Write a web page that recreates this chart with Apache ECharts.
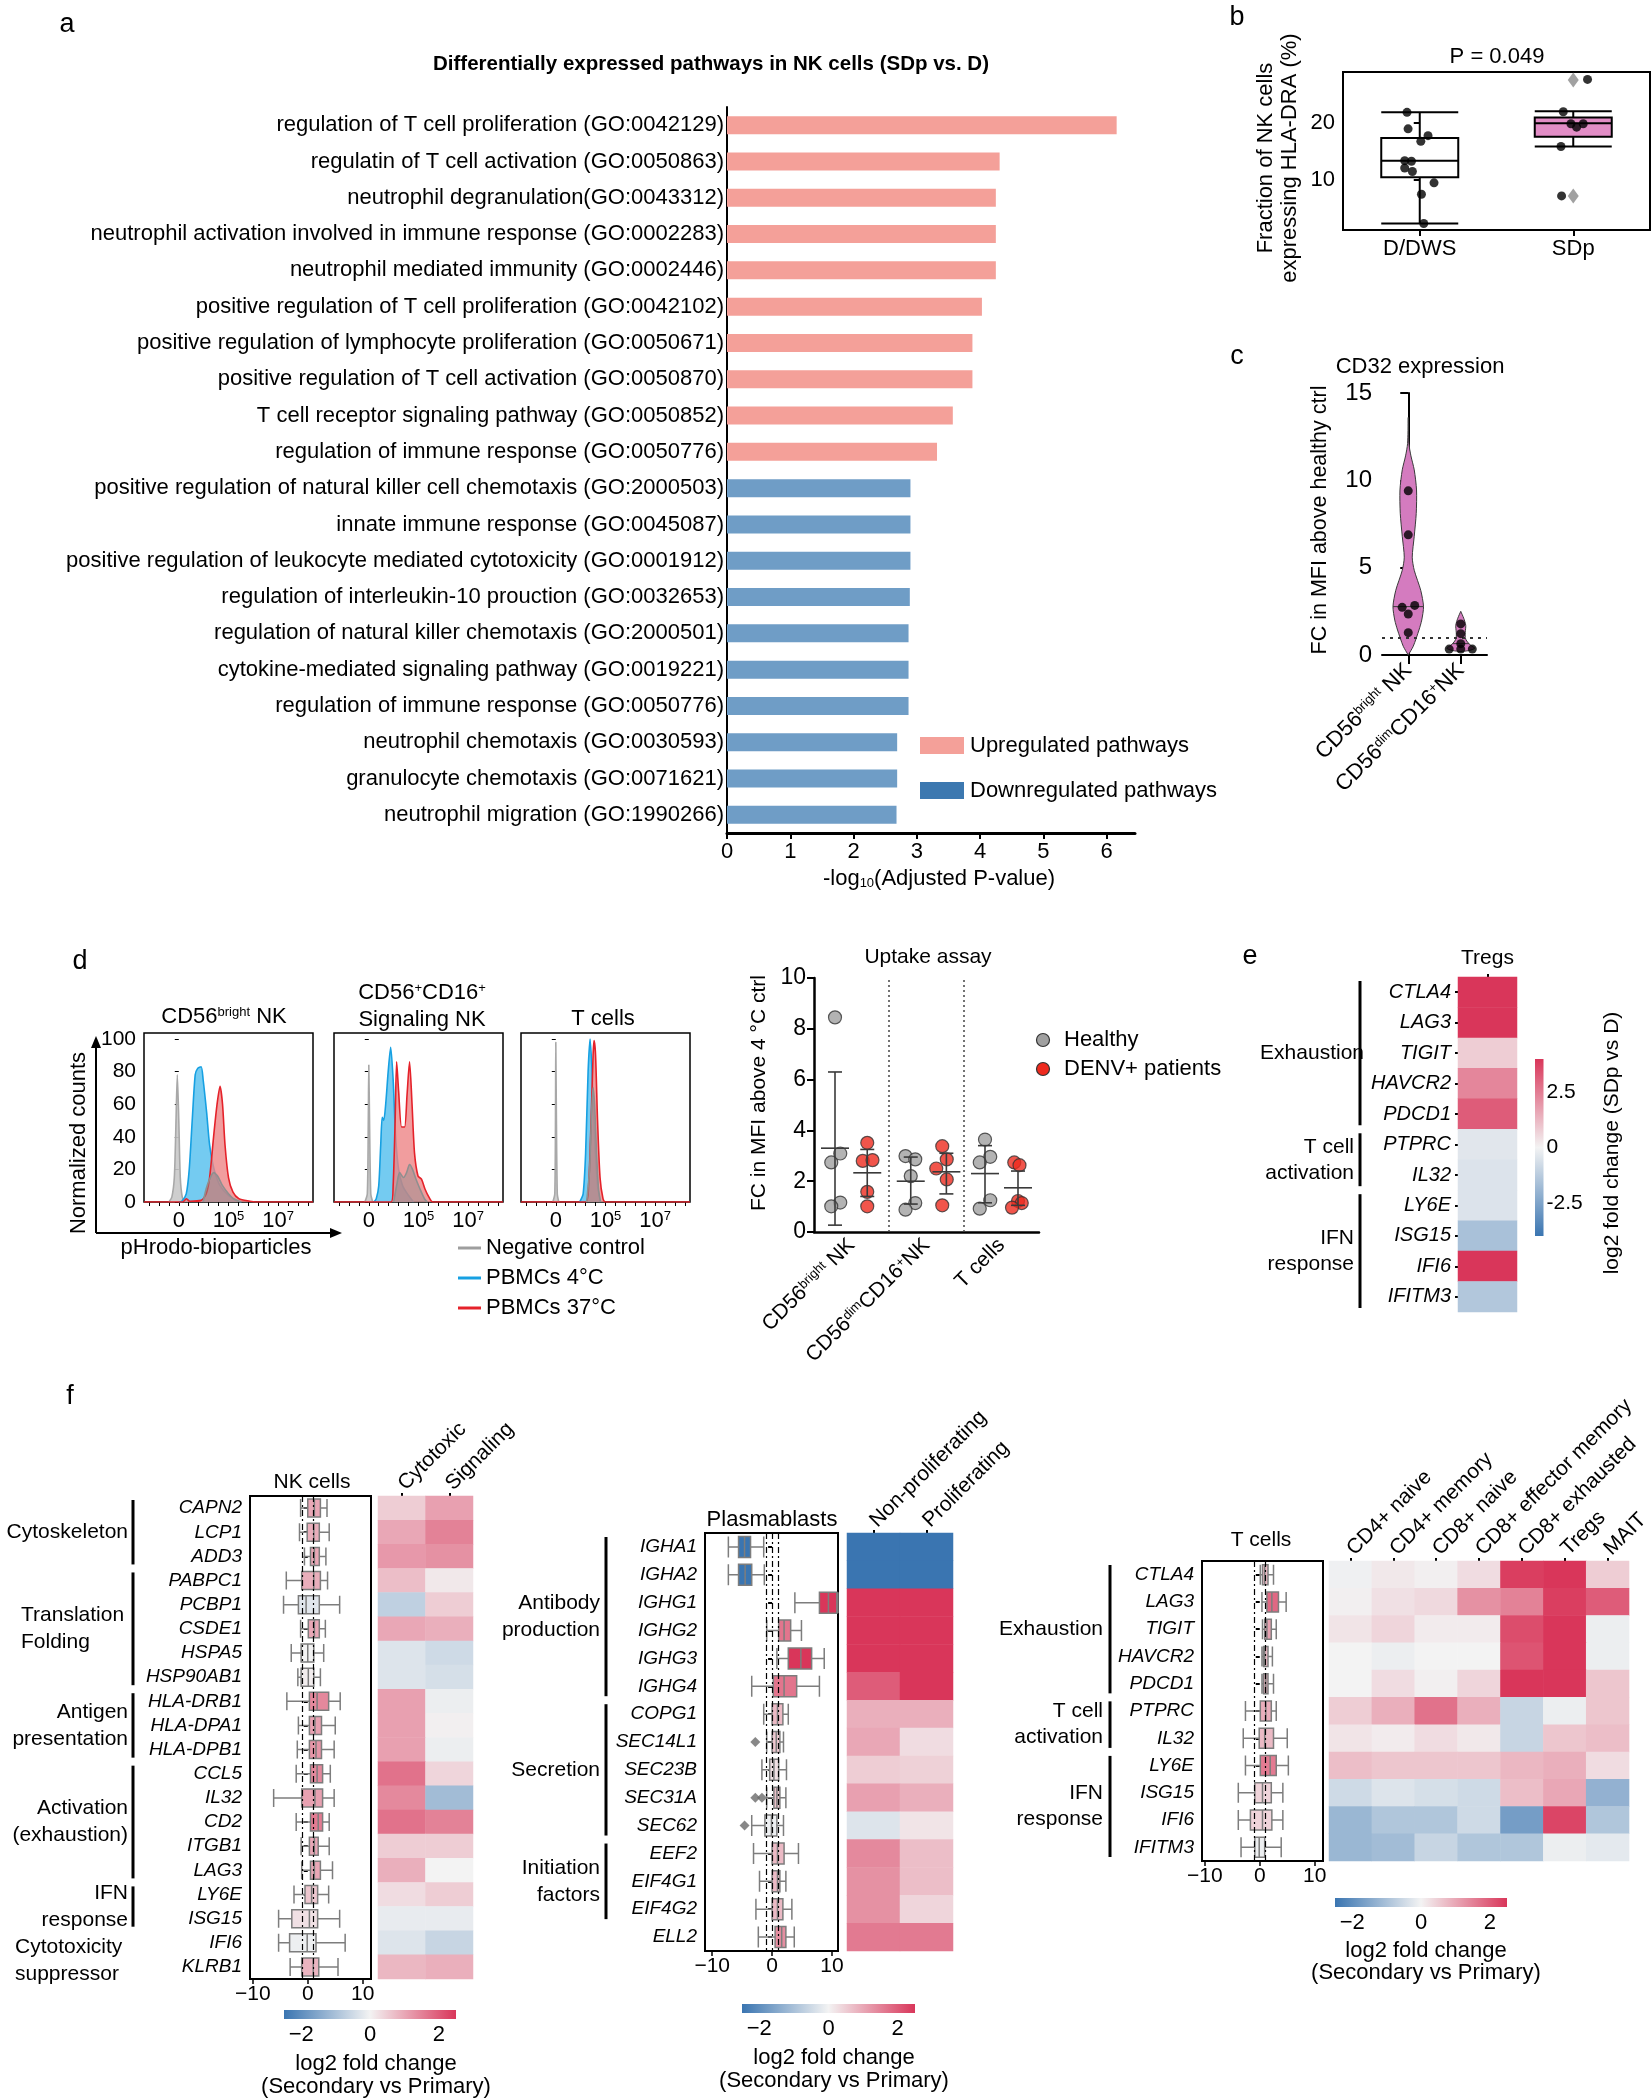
<!DOCTYPE html>
<html><head><meta charset="utf-8">
<script src="https://cdn.jsdelivr.net/npm/echarts/dist/echarts.min.js"></script>
<style>html,body{margin:0;padding:0;background:#fff}#c{width:1652px;height:2100px}</style>
</head><body><div id="c"></div>
<script>
const FONT = 'Liberation Sans, Arial, Helvetica, sans-serif';

// ---------------- Panel a data
const pathwayLabels = [
 'regulation of T cell proliferation (GO:0042129)',
 'regulatin of T cell activation (GO:0050863)',
 'neutrophil degranulation(GO:0043312)',
 'neutrophil activation involved in immune response (GO:0002283)',
 'neutrophil mediated immunity (GO:0002446)',
 'positive regulation of T cell proliferation (GO:0042102)',
 'positive regulation of lymphocyte proliferation (GO:0050671)',
 'positive regulation of T cell activation (GO:0050870)',
 'T cell receptor signaling pathway (GO:0050852)',
 'regulation of immune response (GO:0050776)',
 'positive regulation of natural killer cell chemotaxis (GO:2000503)',
 'innate immune response (GO:0045087)',
 'positive regulation of leukocyte mediated cytotoxicity (GO:0001912)',
 'regulation of interleukin-10 prouction (GO:0032653)',
 'regulation of natural killer chemotaxis (GO:2000501)',
 'cytokine-mediated signaling pathway (GO:0019221)',
 'regulation of immune response (GO:0050776)',
 'neutrophil chemotaxis (GO:0030593)',
 'granulocyte chemotaxis (GO:0071621)',
 'neutrophil migration (GO:1990266)'];
const pathwayValues = [6.16,4.31,4.25,4.25,4.25,4.03,3.88,3.88,3.57,3.32,2.90,2.90,2.90,2.89,2.87,2.87,2.87,2.69,2.69,2.68];
const pathwayDirection = ['up','up','up','up','up','up','up','up','up','up','down','down','down','down','down','down','down','down','down','down'];
const pathwayTicks = [0,1,2,3,4,5,6];

// ---------------- Panel b data
const hlaGroups = ['D/DWS','SDp'];
const hlaBoxStats = [[2.35,10.5,13.4,17.4,21.9],[15.9,17.6,20.0,21.0,22.1]];
const hlaPointsD = [[-0.083,21.9],[-0.076,19.0],[0.054,17.8],[0.007,16.8],[-0.098,13.4],[-0.054,13.3],[-0.098,12.1],[-0.048,11.5],[0.093,9.5],[0.011,7.5],[0.026,2.35]];
const hlaPointsS = [[0.935,22.0],[1.093,27.7],[0.985,19.9],[1.022,19.3],[1.065,19.9],[0.92,15.9],[0.924,7.2]];
const hlaOutliersS = [[1,27.6],[1,7.2]];
const hlaTicks = [10,20];

// ---------------- Panel c data
const cd32Groups = ['bright','dim'];
const cd32Medians = [[0,2.77],[1,0.65]];
const violinBright = [[0,0],[0.5,0.095],[1.43,0.204],[2.0,0.257],[2.77,0.291],[3.7,0.238],[4.85,0.114],[5.6,0.076],[6.8,0.114],[8.1,0.152],[9.45,0.158],[10.6,0.114],[11.4,0.051],[12.1,0.013],[13.6,0]];
const violinDim = [[0.2,0],[0.25,0.15],[0.32,0.229],[0.4,0.267],[0.55,0.19],[0.8,0.114],[1.0,0.086],[1.3,0.086],[1.7,0.095],[2.1,0.057],[2.5,0]];
const cd32Bright = [[-0.116,2.73],[0.123,2.84],[0,2.35],[0,1.28],[0,6.88],[0,9.4]];
const cd32Dim = [[0.78,0.34],[1,0.34],[1.22,0.34],[1,0.65],[1,1.22],[1,1.78]];

// ---------------- Panel d histograms (x: 0 -> 0, 1 -> 10^5, 2 -> 10^7)
const histBrightGrey = [[-0.2,0],[-0.14,3],[-0.09,15],[-0.06,45],[-0.03,78],[0.0,50],[0.03,15],[0.07,3],[0.12,0]];
const histBrightBlue = [[0.0,0],[0.06,0.5],[0.15,5],[0.21,20],[0.27,50],[0.33,78],[0.38,82],[0.45,83],[0.49,75],[0.56,55],[0.62,35],[0.71,20],[0.83,10],[1.0,4],[1.17,1],[1.26,0]];
const histBrightRed = [[-0.7,0],[0.08,0],[0.15,2],[0.22,0.5],[0.45,1],[0.55,5],[0.62,15],[0.70,40],[0.77,60],[0.83,71],[0.88,60],[0.93,35],[1.0,15],[1.09,6],[1.21,2],[1.43,0.5],[1.55,0],[2.7,0]];
const histBrightOverlap = [[0.49,0],[0.55,8],[0.62,14],[0.70,18],[0.78,16],[0.88,10],[1.0,5],[1.1,2],[1.26,0]];
const histSignalGrey = [[-0.08,0],[-0.03,5],[-0.01,50],[0.0,84],[0.015,50],[0.04,5],[0.08,0]];
const histSignalBlue = [[0.1,0],[0.15,2],[0.2,10],[0.24,35],[0.27,52],[0.30,50],[0.34,60],[0.39,80],[0.44,95],[0.49,75],[0.54,40],[0.60,20],[0.68,10],[0.8,4],[0.9,0]];
const histSignalRed = [[-0.7,0],[0.45,0],[0.49,10],[0.53,50],[0.56,86],[0.60,68],[0.66,46],[0.72,46],[0.77,66],[0.82,86],[0.87,60],[0.92,30],[0.99,16],[1.06,14],[1.13,8],[1.21,3],[1.29,0],[2.7,0]];
const histSignalOverlap = [[0.5,0],[0.56,10],[0.62,18],[0.70,15],[0.76,18],[0.82,23],[0.88,20],[0.95,14],[1.03,8],[1.12,2],[1.18,0]];
const histTGrey = [[-0.06,0],[-0.02,5],[-0.005,60],[0.0,98],[0.01,60],[0.03,5],[0.06,0]];
const histTBlue = [[0.48,0],[0.55,5],[0.60,30],[0.65,80],[0.69,100],[0.73,80],[0.78,40],[0.84,10],[0.9,0]];
const histTRed = [[-0.7,0],[0.6,0],[0.66,10],[0.71,50],[0.75,90],[0.77,99],[0.80,90],[0.84,50],[0.89,15],[0.95,2],[1.0,0],[2.7,0]];
const histTOverlap = [[0.62,0],[0.68,20],[0.72,55],[0.75,70],[0.78,60],[0.82,30],[0.86,8],[0.9,0]];
const histYTicks = [0,20,40,60,80,100];
const histXTicks = [0,1,2];

// ---------------- Panel d uptake
const uptakeGroups = ['bright','dim','T'];
const uptakeHealthy = [[0.28,8.45],[0.35,3.09],[0.23,2.74],[0.35,1.16],[0.23,1.01],[1.22,2.99],[1.35,2.86],[1.29,2.20],[1.35,1.14],[1.22,0.88],[2.28,3.64],[2.35,2.96],[2.21,2.74],[2.35,1.25],[2.21,0.92]];
const uptakeDenv = [[0.71,3.51],[0.65,2.80],[0.78,2.83],[0.71,1.58],[0.71,1.01],[1.71,3.38],[1.77,2.86],[1.63,2.50],[1.77,2.07],[1.71,1.05],[2.67,2.74],[2.74,2.63],[2.72,1.22],[2.77,1.14],[2.64,0.96]];
const uptakeHealthyStats = [[0.28,3.3,0.27,6.3],[1.29,2.0,1.1,2.95],[2.28,2.3,1.15,3.4]];
const uptakeDenvStats = [[0.71,2.33,1.4,3.25],[1.765,2.37,1.5,3.1],[2.72,1.74,1.05,2.4]];

// ---------------- Panel e
const eGenes = ['CTLA4','LAG3','TIGIT','HAVCR2','PDCD1','PTPRC','IL32','LY6E','ISG15','IFI6','IFITM3'];
const eTregs = [4.0,4.0,0.8,2.3,3.2,-0.4,-0.5,-0.5,-1.6,4.0,-1.4];
const eColorTicks = [-2.5,0,2.5];

// ---------------- Panel f: NK
const nkGenes = ['CAPN2','LCP1','ADD3','PABPC1','PCBP1','CSDE1','HSPA5','HSP90AB1','HLA-DRB1','HLA-DPA1','HLA-DPB1','CCL5','IL32','CD2','ITGB1','LAG3','LY6E','ISG15','IFI6','KLRB1'];
const nkBoxStats = [
 [-1.3,0,1.2,2.3,3.5],[-1.5,-0.1,1.1,2.1,3.9],[-0.6,0.5,1.2,2.1,3.3],[-3.9,-1.1,1.1,2.3,3.6],
 [-4.4,-1.7,-0.3,2.1,5.8],[-1.3,0.1,1.2,2.1,3.2],[-3.0,-1.2,0,1.1,2.9],[-1.8,-1.2,0.1,1.1,2.3],
 [-3.8,0.3,1.7,3.8,5.9],[-1.7,0.3,1.3,2.5,5.0],[-1.9,0.3,1.5,2.5,4.8],[-2.1,0.5,1.7,2.7,4.1],
 [-6.2,-1.1,1.3,2.7,4.8],[-2.1,0.5,1.9,2.7,3.9],[-1.2,0.3,1.2,1.9,3.9],[-1.1,0.5,1.2,2.3,4.5],
 [-2.5,-0.5,0.7,1.8,3.8],[-5.3,-2.9,0.3,1.8,5.8],[-5.3,-3.3,-0.1,1.5,6.8],[-3.2,-1.1,1.0,2.0,5.5]];
const nkSubsets = ['Cytotoxic','Signaling'];
const nkCytotoxic = [0.5,1.0,1.2,0.7,-0.7,1.0,-0.3,-0.3,1.1,1.1,1.1,1.7,1.4,1.7,0.5,0.9,0.3,-0.15,-0.3,0.8];
const nkSignaling = [1.1,1.5,1.3,0.15,0.5,0.9,-0.5,-0.4,-0.1,0.05,-0.1,0.4,-1.1,1.5,0.5,0.0,0.5,-0.15,-0.6,0.9];

// ---------------- Panel f: plasmablasts
const pbGenes = ['IGHA1','IGHA2','IGHG1','IGHG2','IGHG3','IGHG4','COPG1','SEC14L1','SEC23B','SEC31A','SEC62','EEF2','EIF4G1','EIF4G2','ELL2'];
const pbBoxStats = [
 [-7.3,-5.6,-4.6,-3.6,-1.4],[-7.3,-5.6,-4.5,-3.4,-1.3],[3.8,7.9,9.4,10.8,11.0],[-0.9,1.1,2.0,3.1,4.9],
 [0.8,2.7,4.8,6.6,8.7],[-3.4,0.2,2.0,4.1,7.9],[-1.4,0,0.9,1.8,2.7],[-0.9,0,0.7,1.3,1.9],
 [-1.7,-0.4,0.3,1.1,2.4],[-0.9,0.3,0.8,1.3,2.3],[-3.4,-1.2,-0.1,0.8,1.9],[-3.1,0,0.9,2.0,4.4],
 [-2.1,0,0.9,1.3,2.3],[-2.7,0,0.9,1.8,3.3],[-2.3,0.5,1.6,2.3,3.7]];
const pbOutliers = [[-2.8,7],[-2.8,9],[-1.7,9],[-4.6,10]];
const pbSubsets = ['Non-proliferating','Proliferating'];
const pbNonProlif = [-2.5,-2.5,2.5,2.5,2.5,2.0,0.9,1.0,0.5,1.1,-0.3,1.4,1.3,1.3,1.6];
const pbProlif = [-2.5,-2.5,2.5,2.5,2.5,2.5,0.9,0.3,0.45,0.9,0.2,0.7,0.7,0.4,1.6];

// ---------------- Panel f: T cells
const tGenes = ['CTLA4','LAG3','TIGIT','HAVCR2','PDCD1','PTPRC','IL32','LY6E','ISG15','IFI6','IFITM3'];
const tBoxStats = [
 [0.1,0.5,0.9,1.5,2.5],[0.4,1.3,2.2,3.4,4.8],[0.5,0.9,1.3,2.1,3.0],[0.4,0.7,0.9,1.5,2.3],
 [0.4,0.7,1.1,1.5,2.5],[-2.6,0.1,1.1,2.1,3.0],[-3.0,-0.1,0.9,2.5,5.0],[-2.6,0.1,1.9,3.0,5.2],
 [-3.9,-0.9,0.5,2.1,4.2],[-3.9,-1.7,0.5,2.2,4.2],[-3.4,-0.9,-0.1,0.9,3.9]];
const tSubsets = ['CD4+ naive','CD4+ memory','CD8+ naive','CD8+ effector memory','CD8+ exhausted','Tregs','MAIT'];
const tHeat = [
 [-0.05,0.15,0.05,0.3,2.4,2.5,0.5],
 [0.05,0.25,0.35,1.3,1.5,2.4,2.0],
 [0.2,0.4,0.1,0.1,2.2,2.5,-0.1],
 [0.0,-0.1,0.0,0.0,2.1,2.5,-0.1],
 [0.0,0.3,0.05,0.4,2.5,2.5,0.6],
 [0.5,0.9,1.7,0.9,-0.6,-0.1,0.6],
 [0.2,0.1,0.3,0.15,-0.6,0.6,0.7],
 [0.7,0.6,0.6,0.6,0.8,0.9,0.3],
 [-0.5,-0.3,-0.4,-0.5,0.7,1.0,-1.3],
 [-1.2,-0.9,-0.9,-0.5,-1.7,2.3,-0.9],
 [-1.2,-1.1,-0.6,-0.9,-0.9,-0.1,-0.2]];
const fColorTicks = [-2,0,2];
const fBoxTicks = [-10,0,10];

// =====================================================================
const PAL = ['#3A75B1','#F3F3F3','#D9365A'];
const UP = '#F4A099', DOWN_BAR = '#6F9DC6', DOWN_LEG = '#3C78B0';
function hx(c){return [parseInt(c.slice(1,3),16),parseInt(c.slice(3,5),16),parseInt(c.slice(5,7),16)];}
function mix(a,b,t){const A=hx(a),B=hx(b);return 'rgb('+A.map((v,i)=>Math.round(v+(B[i]-v)*t)).join(',')+')';}
function divColor(v,lim){const t=Math.max(-1,Math.min(1,v/lim));return t<0?mix(PAL[1],PAL[0],-t):mix(PAL[1],PAL[2],t);}

const opt = {animation:false, backgroundColor:'#fff', textStyle:{fontFamily:FONT, color:'#000'},
  grid:[], xAxis:[], yAxis:[], series:[], visualMap:[], graphic:{elements:[]}};
const G = opt.graphic.elements;
function addGrid(g){opt.grid.push(Object.assign({containLabel:false}, g)); return opt.grid.length-1;}
function addX(a){opt.xAxis.push(a); return opt.xAxis.length-1;}
function addY(a){opt.yAxis.push(a); return opt.yAxis.length-1;}
function addS(s){opt.series.push(s); return opt.series.length-1;}
function T(x,y,text,o){o=o||{};G.push({type:'text',x:x,y:y,rotation:o.rot||0,z:20,silent:true,
  style:{text:text,fill:o.color||'#000',fontSize:o.size||21,fontFamily:FONT,fontWeight:o.weight||'normal',
  fontStyle:o.fstyle||'normal',align:o.align||'center',verticalAlign:o.va||'middle',lineHeight:o.lh||undefined,rich:o.rich||undefined}});}
function L(x1,y1,x2,y2,w,c){G.push({type:'line',z:20,silent:true,shape:{x1,y1,x2,y2},style:{stroke:c||'#000',lineWidth:w||2}});}
const SUPR = {s:{fontSize:13, fontFamily:FONT, verticalAlign:'top', lineHeight:14}};

// ---------------- Panel a
const gA = addGrid({left:727, top:107, width:408, height:726});
const xA = addX({type:'value', gridIndex:gA, min:0, max:6.45, splitLine:{show:false},
  axisLine:{show:true, lineStyle:{color:'#000', width:3}},
  axisTick:{show:true, customValues:pathwayTicks, length:6, lineStyle:{color:'#000', width:2}},
  axisLabel:{customValues:pathwayTicks, fontSize:22, color:'#000', margin:8}});
const yA = addY({type:'category', gridIndex:gA, inverse:true, data:pathwayLabels.map((_,i)=>'p'+i),
  axisLine:{show:true, lineStyle:{color:'#000', width:2}}, axisTick:{show:false},
  axisLabel:{interval:0, formatter:v=>pathwayLabels[+v.slice(1)], fontSize:22, color:'#000', margin:3}});
addS({type:'bar', xAxisIndex:xA, yAxisIndex:yA, barWidth:18,
  data:pathwayValues.map((v,i)=>({value:v, itemStyle:{color:pathwayDirection[i]==='up'?UP:DOWN_BAR}}))});
T(711,64,'Differentially expressed pathways in NK cells (SDp vs. D)',{size:20.5,weight:'bold'});
T(939,879,'-log{b|10}(Adjusted P-value)',{size:22,rich:{b:{fontSize:13,verticalAlign:'bottom',fontFamily:FONT}}});
G.push({type:'rect',z:20,shape:{x:920,y:737,width:44,height:17},style:{fill:UP}});
G.push({type:'rect',z:20,shape:{x:920,y:782,width:44,height:17},style:{fill:DOWN_LEG}});
T(970,746,'Upregulated pathways',{size:22,align:'left'});
T(970,791,'Downregulated pathways',{size:22,align:'left'});

// ---------------- Panel b
const gB = addGrid({left:1343, top:72, width:307, height:158, show:true, borderColor:'#000', borderWidth:2});
const xB = addX({type:'category', gridIndex:gB, data:hlaGroups, axisLine:{show:false},
  axisTick:{show:true, alignWithLabel:true, length:6, lineStyle:{color:'#000', width:2}},
  axisLabel:{fontSize:22, color:'#000', margin:8}});
const xB2 = addX({type:'value', gridIndex:gB, min:-0.5, max:1.5, show:false});
const yB = addY({type:'value', gridIndex:gB, min:1.2, max:29, splitLine:{show:false}, axisLine:{show:false},
  axisTick:{show:true, customValues:hlaTicks, length:6, lineStyle:{color:'#000', width:2}},
  axisLabel:{customValues:hlaTicks, fontSize:22, color:'#000', margin:8}});
addS({type:'boxplot', xAxisIndex:xB, yAxisIndex:yB, boxWidth:[77,77],
  data:hlaBoxStats.map((s,i)=>({value:s, itemStyle:{color:i?'#E28DC6':'#fff', borderColor:'#000', borderWidth:2}}))});
addS({type:'scatter', xAxisIndex:xB2, yAxisIndex:yB, symbolSize:9, itemStyle:{color:'#000'}, data:hlaPointsD.concat(hlaPointsS), z:5});
addS({type:'scatter', xAxisIndex:xB2, yAxisIndex:yB, symbol:'diamond', symbolSize:[11,15], itemStyle:{color:'#8a8a8a'}, data:hlaOutliersS, z:4});
T(1497,57,'P = 0.049',{size:22});
T(1278,158,'Fraction of NK cells\nexpressing HLA-DRA (%)',{size:22,rot:Math.PI/2,lh:24});

// ---------------- Panel c
const gC = addGrid({left:1382, top:393, width:105, height:262});
const xC = addX({type:'category', gridIndex:gC, data:cd32Groups,
  axisLine:{show:true, lineStyle:{color:'#000', width:2}},
  axisTick:{show:true, alignWithLabel:true, length:9, lineStyle:{color:'#000', width:2}},
  axisLabel:{interval:0, rotate:45, fontSize:22, color:'#000', margin:12, rich:SUPR,
    formatter:v=>v==='bright'?'CD56{s|bright} NK':'CD56{s|dim}CD16{s|+}NK'}});
const xC2 = addX({type:'value', gridIndex:gC, min:-0.5, max:1.5, show:false});
const yC = addY({type:'value', gridIndex:gC, min:0, max:15, interval:5, splitLine:{show:false},
  axisLine:{show:true, lineStyle:{color:'#000', width:2}},
  axisTick:{show:true, length:8, lineStyle:{color:'#000', width:2}},
  axisLabel:{fontSize:24, color:'#000', margin:10}});
const violinProfiles = [violinBright, violinDim];
addS({type:'custom', xAxisIndex:xC2, yAxisIndex:yC, data:cd32Medians, z:2,
  renderItem:(params, api)=>{
    const prof = violinProfiles[params.dataIndex]; const c = api.value(0), med = api.value(1);
    const R = prof.map(p=>api.coord([c+p[1], p[0]])); const Lf = prof.slice().reverse().map(p=>api.coord([c-p[1], p[0]]));
    let hw = 0; for (let i=1;i<prof.length;i++){ if (prof[i][0]>=med){const a=prof[i-1],b=prof[i];hw=a[1]+(b[1]-a[1])*(med-a[0])/(b[0]-a[0]);break;} }
    const m1 = api.coord([c-hw, med]), m2 = api.coord([c+hw, med]);
    return {type:'group', children:[
      {type:'polygon', shape:{points:R.concat(Lf), smooth:0.25}, style:{fill:'#D47BBF', stroke:'#3a3a3a', lineWidth:1}},
      {type:'line', shape:{x1:m1[0],y1:m1[1],x2:m2[0],y2:m2[1]}, style:{stroke:'#3a3a3a', lineWidth:1}}]};
  }});
addS({type:'scatter', xAxisIndex:xC2, yAxisIndex:yC, symbolSize:9, itemStyle:{color:'#000'}, data:cd32Bright.concat(cd32Dim), z:5,
  markLine:{silent:true, symbol:'none', label:{show:false}, lineStyle:{color:'#333', type:[3,5], width:2}, data:[{yAxis:1}]}});
T(1420,367,'CD32 expression',{size:22});
T(1320,520,'FC in MFI above healthy ctrl',{size:21.5,rot:Math.PI/2});

// ---------------- Panel d histograms
const histMinor = []; for (let v=-0.6; v<2.65; v+=0.2) histMinor.push(+v.toFixed(2));
function histPanel(left, curves, showY){
  const g = addGrid({left:left, top:1033, width:169, height:169, show:true, borderColor:'#000', borderWidth:1.5});
  const xi = addX({type:'value', gridIndex:g, min:-0.7, max:2.7, splitLine:{show:false}, axisLine:{show:false},
    axisTick:{show:true, customValues:histMinor, length:4, lineStyle:{color:'#000'}},
    axisLabel:{customValues:histXTicks, fontSize:22, color:'#000', margin:8, rich:SUPR,
      formatter:v=>v===0?'0':(v===1?'10{s|5}':'10{s|7}')}});
  const yi = addY({type:'value', gridIndex:g, min:0, max:103.7, splitLine:{show:false}, axisLine:{show:false},
    axisTick:{show:true, customValues:histYTicks, length:4, lineStyle:{color:'#000'}},
    axisLabel:{show:showY, customValues:histYTicks, fontSize:21, color:'#000', margin:8}});
  curves.forEach((c,k)=>addS({type:'line', xAxisIndex:xi, yAxisIndex:yi, data:c.d, smooth:0.25, symbol:'none', z:2+k,
    lineStyle:{color:c.line, width:1.6}, areaStyle:{color:c.fill, opacity:c.op}}));
}
const GREY = {line:'#A8A8A8', fill:'#C9C9C9', op:0.9}, BLUE = {line:'#16A0E2', fill:'#5CC2EE', op:0.85},
      RED = {line:'#E5222A', fill:'#EE8486', op:0.8}, OVL = {line:'#8F8F8F', fill:'#8C8C8C', op:0.45};
histPanel(144,[Object.assign({d:histBrightGrey},GREY),Object.assign({d:histBrightBlue},BLUE),Object.assign({d:histBrightRed},RED),Object.assign({d:histBrightOverlap},OVL)],true);
histPanel(334,[Object.assign({d:histSignalGrey},GREY),Object.assign({d:histSignalBlue},BLUE),Object.assign({d:histSignalRed},RED),Object.assign({d:histSignalOverlap},OVL)],false);
histPanel(521,[Object.assign({d:histTGrey},GREY),Object.assign({d:histTBlue},BLUE),Object.assign({d:histTRed},RED),Object.assign({d:histTOverlap},OVL)],false);
T(224,1017,'CD56{s|bright} NK',{size:22,rich:SUPR});
T(422,993,'CD56{s|+}CD16{s|+}',{size:22,rich:SUPR});
T(422,1020,'Signaling NK',{size:22});
T(603,1019,'T cells',{size:22});
T(79,1143,'Normalized counts',{size:22,rot:Math.PI/2});
T(216,1248,'pHrodo-bioparticles',{size:22});
L(96,1233,96,1046,2); L(96,1233,332,1233,2);
G.push({type:'polygon',z:20,shape:{points:[[91,1048],[101,1048],[96,1036]]},style:{fill:'#000'}});
G.push({type:'polygon',z:20,shape:{points:[[330,1228],[330,1238],[342,1233]]},style:{fill:'#000'}});
L(458,1248,481,1248,3,'#9E9E9E'); L(458,1278,481,1278,3,'#16A0E2'); L(458,1308,481,1308,3,'#E5222A');
T(486,1248,'Negative control',{size:22,align:'left'});
T(486,1278,'PBMCs 4\u00B0C',{size:22,align:'left'});
T(486,1308,'PBMCs 37\u00B0C',{size:22,align:'left'});

// ---------------- Panel d uptake
const gU = addGrid({left:814, top:978, width:225, height:254});
const xU = addX({type:'category', gridIndex:gU, data:uptakeGroups,
  axisLine:{show:true, lineStyle:{color:'#000', width:2.5}}, axisTick:{show:false},
  axisLabel:{interval:0, rotate:45, fontSize:21, color:'#000', margin:10, rich:SUPR,
    formatter:v=>v==='bright'?'CD56{s|bright} NK':(v==='dim'?'CD56{s|dim}CD16{s|+}NK':'T cells')}});
const xU2 = addX({type:'value', gridIndex:gU, min:0, max:3, show:false});
const yU = addY({type:'value', gridIndex:gU, min:0, max:10, interval:2, splitLine:{show:false},
  axisLine:{show:true, lineStyle:{color:'#000', width:2.5}},
  axisTick:{show:true, length:7, lineStyle:{color:'#000', width:2}},
  axisLabel:{fontSize:23, color:'#000', margin:8}});
function errRender(params, api){
  const x=api.value(0), m=api.value(1), lo=api.value(2), hi=api.value(3);
  const pm=api.coord([x,m]), pl=api.coord([x,lo]), ph=api.coord([x,hi]);
  const st={stroke:'#3a3a3a', lineWidth:1.6};
  return {type:'group', children:[
    {type:'line', shape:{x1:pl[0],y1:pl[1],x2:ph[0],y2:ph[1]}, style:st},
    {type:'line', shape:{x1:pl[0]-7,y1:pl[1],x2:pl[0]+7,y2:pl[1]}, style:st},
    {type:'line', shape:{x1:ph[0]-7,y1:ph[1],x2:ph[0]+7,y2:ph[1]}, style:st},
    {type:'line', shape:{x1:pm[0]-14,y1:pm[1],x2:pm[0]+14,y2:pm[1]}, style:st}]};
}
addS({type:'scatter', xAxisIndex:xU2, yAxisIndex:yU, symbolSize:13, itemStyle:{color:'#A0A0A0', borderColor:'#333', borderWidth:1.2}, data:uptakeHealthy, z:3,
  markLine:{silent:true, symbol:'none', label:{show:false}, lineStyle:{color:'#444', type:[2,3], width:1.5}, data:[{xAxis:1},{xAxis:2}]}});
addS({type:'scatter', xAxisIndex:xU2, yAxisIndex:yU, symbolSize:13, itemStyle:{color:'#EE2A1E', borderColor:'#333', borderWidth:1.2}, data:uptakeDenv, z:3});
addS({type:'custom', xAxisIndex:xU2, yAxisIndex:yU, data:uptakeHealthyStats.concat(uptakeDenvStats), renderItem:errRender, z:6});
T(928,957,'Uptake assay',{size:21});
T(759,1093,'FC in MFI above 4 \u00B0C ctrl',{size:21,rot:Math.PI/2});
G.push({type:'circle',z:20,shape:{cx:1043,cy:1040,r:6.5},style:{fill:'#A0A0A0',stroke:'#333',lineWidth:1.2}});
G.push({type:'circle',z:20,shape:{cx:1043,cy:1069,r:6.5},style:{fill:'#EE2A1E',stroke:'#333',lineWidth:1.2}});
T(1064,1040,'Healthy',{size:22,align:'left'});
T(1064,1069,'DENV+ patients',{size:22,align:'left'});

// ---------------- heatmap / box helpers
function heatPanel(left, top, width, height, genes, cols, matrix, showY, labelSize){
  const g = addGrid({left, top, width, height});
  const multi = cols.length>1;
  const xi = addX({type:'category', gridIndex:g, position:'top', data:cols, axisLine:{show:false},
    axisTick:{show:true, alignWithLabel:true, length:3, lineStyle:{color:'#000', width:2}},
    axisLabel:{interval:0, rotate:multi?-45:0, fontSize:21, color:'#000', margin:multi?9:8}});
  const yi = addY({type:'category', gridIndex:g, inverse:true, data:genes, show:showY, axisLine:{show:false},
    axisTick:{show:true, alignWithLabel:true, length:3, lineStyle:{color:'#000', width:2}},
    axisLabel:{interval:0, fontStyle:'italic', fontSize:labelSize||20, color:'#000', margin:7}});
  const data = []; genes.forEach((gn,i)=>cols.forEach((c,j)=>data.push([j,i,matrix(i,j)])));
  return addS({type:'heatmap', xAxisIndex:xi, yAxisIndex:yi, data, itemStyle:{borderWidth:0}, emphasis:{disabled:true}});
}
function boxPanel(left, top, width, height, genes, stats, xmin, xmax, bw, outliers, lines){
  const g = addGrid({left, top, width, height, show:true, borderColor:'#000', borderWidth:2});
  const xi = addX({type:'value', gridIndex:g, min:xmin, max:xmax, splitLine:{show:false}, axisLine:{show:false},
    axisTick:{show:true, customValues:fBoxTicks, length:5, lineStyle:{color:'#000', width:1.5}},
    axisLabel:{customValues:fBoxTicks, fontSize:21, color:'#000', margin:5, formatter:v=>v<0?'\u2212'+Math.abs(v):String(v)}});
  const yi = addY({type:'category', gridIndex:g, inverse:true, data:genes, axisLine:{show:false},
    axisTick:{show:true, alignWithLabel:true, interval:0, length:4, lineStyle:{color:'#000', width:2}},
    axisLabel:{interval:0, fontStyle:'italic', fontSize:19, color:'#000', margin:8}});
  addS({type:'boxplot', layout:'horizontal', xAxisIndex:xi, yAxisIndex:yi, boxWidth:[bw,bw], z:3,
    data:stats.map(s=>({value:s, itemStyle:{color:divColor(s[2],3), borderColor:'#7d7d7d', borderWidth:1.5}}))});
  addS({type:'scatter', xAxisIndex:xi, yAxisIndex:yi, symbol:'diamond', symbolSize:10, itemStyle:{color:'#6a6a6a'}, data:outliers, z:4,
    markLine:{silent:true, symbol:'none', label:{show:false}, lineStyle:{color:'#000', type:[6,3,2,3], width:1.2}, data:lines.map(v=>({xAxis:v}))}});
}
function hColorbar(left, top, width, height){
  const g = addGrid({left, top, width, height});
  addX({type:'value', gridIndex:g, min:-2.5, max:2.5, splitLine:{show:false}, axisLine:{show:false},
    axisTick:{show:true, inside:true, customValues:fColorTicks, length:3, lineStyle:{color:'#333', width:2}},
    axisLabel:{customValues:fColorTicks, fontSize:22, color:'#000', margin:5, formatter:v=>v<0?'\u2212'+Math.abs(v):String(v)}});
  addY({type:'value', gridIndex:g, show:false, min:0, max:1});
  G.push({type:'rect', z:1, shape:{x:left, y:top, width:width, height:height},
    style:{fill:new echarts.graphic.LinearGradient(0,0,1,0,[{offset:0,color:PAL[0]},{offset:0.5,color:PAL[1]},{offset:1,color:PAL[2]}])}});
}
function brackets(top, height, n, groups, barX, textX, lh){
  const b = height/n;
  groups.forEach(gr=>{
    const y1 = top + gr[1]*b + 4, y2 = top + (gr[2]+1)*b - 4;
    if (!gr[3] || !gr[3].noBar) L(barX, y1, barX, y2, 3);
    const o = gr[3] || {};
    T(o.x!==undefined?o.x:textX, (y1+y2)/2 + (o.dy||0), gr[0], {size:21, align:o.align||'right', lh:lh});
  });
}

// ---------------- Panel e
const heatE = heatPanel(1458, 977, 59, 335, eGenes, ['Tregs'], (i)=>eTregs[i], true, 20);
const gEc = addGrid({left:1535, top:1059, width:8.5, height:177});
addX({type:'value', gridIndex:gEc, show:false, min:0, max:1});
addY({type:'value', gridIndex:gEc, position:'right', min:-4, max:4, splitLine:{show:false}, axisLine:{show:false},
  axisTick:{show:true, customValues:eColorTicks, length:5, lineStyle:{color:'#000', width:1.5}},
  axisLabel:{customValues:eColorTicks, fontSize:21, color:'#000', margin:3}});
G.push({type:'rect', z:1, shape:{x:1535, y:1059, width:8.5, height:177},
  style:{fill:new echarts.graphic.LinearGradient(0,0,0,1,[{offset:0,color:PAL[2]},{offset:0.5,color:PAL[1]},{offset:1,color:PAL[0]}])}});
T(1612,1143,'log2 fold change (SDp vs D)',{size:21,rot:Math.PI/2});
brackets(977, 335, 11, [['Exhaustion',0,4,{x:1364}],['T cell\nactivation',5,6],['IFN\nresponse',7,10]], 1360, 1354, 26);

// ---------------- Panel f
boxPanel(250, 1496, 121, 483, nkGenes, nkBoxStats, -10.5, 11.5, 18, [], [-1,1]);
const heatNK = heatPanel(378, 1496, 95, 483, nkGenes, nkSubsets, (i,j)=>j?nkSignaling[i]:nkCytotoxic[i], false);
hColorbar(284, 2010, 172, 9);
T(312,1482,'NK cells',{size:21});
T(376,2064,'log2 fold change',{size:22});
T(376,2087,'(Secondary vs Primary)',{size:22});
brackets(1496, 483, 20, [['Cytoskeleton',0,2],['Translation\nFolding',3,7,{align:'left',x:21}],['Antigen\npresentation',8,10],
  ['Activation\n(exhaustion)',11,15],['IFN\nresponse',16,17],['Cytotoxicity\nsuppressor',18,19,{noBar:true,align:'left',x:15,dy:6}]], 133, 128, 27);

boxPanel(705, 1533, 133, 418, pbGenes, pbBoxStats, -11.2, 11, 21, pbOutliers, [-1,0,1]);
const heatPB = heatPanel(847, 1533, 106, 418, pbGenes, pbSubsets, (i,j)=>j?pbProlif[i]:pbNonProlif[i], false);
hColorbar(742, 2004, 173, 9);
T(772,1520,'Plasmablasts',{size:22});
T(834,2058,'log2 fold change',{size:22});
T(834,2081,'(Secondary vs Primary)',{size:22});
brackets(1533, 418, 15, [['Antibody\nproduction',0,5],['Secretion',6,10],['Initiation\nfactors',11,13]], 606, 600, 27);

boxPanel(1202, 1561, 121, 300, tGenes, tBoxStats, -10.5, 11.5, 20, [], [-1,1]);
const heatT = heatPanel(1329, 1561, 309, 300, tGenes, tSubsets, (i,j)=>tHeat[i][j], false);
hColorbar(1335, 1898, 172, 9);
T(1261,1540,'T cells',{size:21});
T(1426,1951,'log2 fold change',{size:22});
T(1426,1973,'(Secondary vs Primary)',{size:22});
brackets(1561, 300, 11, [['Exhaustion',0,4],['T cell\nactivation',5,6],['IFN\nresponse',7,10]], 1110, 1103, 26);

opt.visualMap.push({type:'continuous', show:false, min:-2.5, max:2.5, dimension:2, seriesIndex:[heatNK, heatPB, heatT], inRange:{color:PAL}});
opt.visualMap.push({type:'continuous', show:false, min:-4, max:4, dimension:2, seriesIndex:[heatE], inRange:{color:PAL}});

// panel letters
T(67,25,'a',{size:27}); T(1237,18,'b',{size:27}); T(1237,357,'c',{size:27});
T(80,962,'d',{size:27}); T(1250,957,'e',{size:27}); T(70,1397,'f',{size:27});

const chart = echarts.init(document.getElementById('c'), null, {renderer:'canvas', width:1652, height:2100});
chart.setOption(opt);
</script></body></html>
